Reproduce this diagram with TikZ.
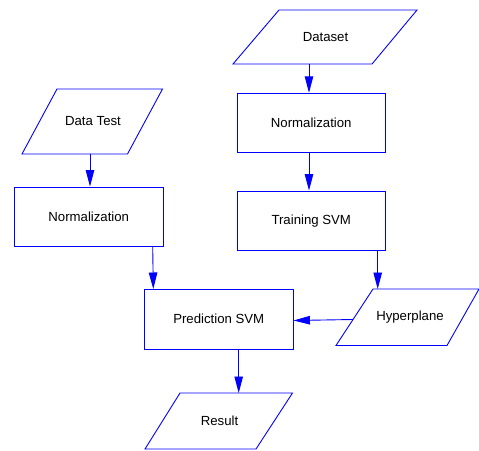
\documentclass[tikz,border=0pt]{standalone}
\usepackage{fontspec}
\setmainfont{Liberation Sans}
\usetikzlibrary{arrows.meta}
\definecolor{lineblue}{RGB}{0,0,255}
\tikzset{
  boxline/.style={draw=lineblue, line width=0.9pt},
  procbox/.style={boxline, rectangle, inner sep=0pt, minimum width=148.5pt, minimum height=59.5pt, font=\fontsize{13.2}{15}\selectfont},
  lbl/.style={inner sep=0pt, font=\fontsize{13.2}{15}\selectfont},
  arr/.style={draw=lineblue, line width=0.9pt, -{Triangle[length=16.5pt,width=8.5pt]}},
}
\begin{document}
\begin{tikzpicture}[x=1pt,y=-1pt]
\useasboundingbox (0,0) rectangle (479,450);

% parallelograms (input/output)
\draw[boxline] (279,10) -- (417,10) -- (372,64) -- (233,64) -- cycle;
\node[lbl] (dataset) at (325.5,37) {Dataset};

\draw[boxline] (57,89) -- (162.5,89) -- (127.5,154) -- (22,154) -- cycle;
\node[lbl] (datatest) at (93,121.5) {Data Test};

\draw[boxline] (373,289) -- (479,289) -- (447,345.5) -- (336,345.5) -- cycle;
\node[lbl] (hyper) at (410,317) {Hyperplane};

\draw[boxline] (180,393) -- (292.5,393) -- (256,449) -- (145,449) -- cycle;
\node[lbl] (result) at (219.5,421) {Result};

% process boxes
\node[procbox] (normr) at (311.25,123) {Normalization};
\node[procbox] (train) at (311.25,220.75) {Training SVM};
\node[procbox] (norml) at (88.75,216.75) {Normalization};
\node[procbox, minimum height=60pt] (pred) at (218.75,319) {Prediction SVM};

% connector end points on the parallelogram edges
\coordinate (ds-out) at (309,64);
\coordinate (dt-out) at (90,154);
\coordinate (hy-in) at (377.7,289);
\coordinate (hy-out) at (353,319.5);
\coordinate (rs-in) at (238.7,393);
\coordinate (nl-out) at (152.7,246.5);
\coordinate (pr-in) at (153.3,289);

% connectors
\draw[arr] (ds-out) -- (normr.north -| ds-out);
\draw[arr] (normr.south -| ds-out) -- (train.north -| ds-out);
\draw[arr] (train.south -| hy-in) -- (hy-in);
\draw[arr] (hy-out) -- (pred.east |- 0,320.5);
\draw[arr] (dt-out) -- (norml.north -| dt-out);
\draw[arr] (nl-out) -- (pr-in);
\draw[arr] (pred.south -| rs-in) -- (rs-in);
\end{tikzpicture}
\end{document}
